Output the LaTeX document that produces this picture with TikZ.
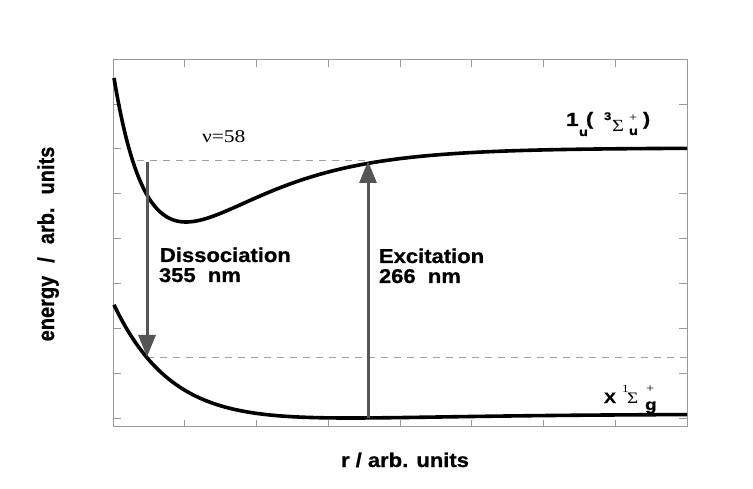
\documentclass[tikz,border=0pt]{standalone}
\usepackage{fontspec}
\usepackage{graphicx}
\usetikzlibrary{arrows.meta}
\newfontfamily\lsans{Liberation Sans}[BoldFeatures={FakeBold=0.8}]
\newfontfamily\lserif{Liberation Serif}
\newcommand\strx[1]{\scalebox{1.2}[1]{#1}}
\newcommand\strxb[1]{\scalebox{1.1}[1]{#1}}
\definecolor{framegray}{HTML}{999999}
\definecolor{arrowgray}{HTML}{555555}
\definecolor{dashgray}{HTML}{A0A0A0}
\tikzset{
  stsans/.style={anchor=base west, inner sep=0pt, outer sep=0pt, font=\lsans\bfseries\fontsize{#1}{#1}\selectfont},
  stserif/.style={anchor=base west, inner sep=0pt, outer sep=0pt, font=\lserif\fontsize{#1}{#1}\selectfont},
  framestyle/.style={draw=framegray, line width=0.9pt},
  tickstyle/.style={draw=framegray, line width=0.7pt},
  dashline/.style={draw=dashgray, line width=0.8pt, dash pattern=on 7pt off 6pt},
  curve/.style={draw=black, line width=3.6pt},
  transition/.style={draw=arrowgray, line width=3pt, -{Triangle[width=17pt,length=22pt]}},
}
\begin{document}
\begin{tikzpicture}[x=1pt,y=-1pt]
\useasboundingbox (0,0) rectangle (753,489);
\fill[white] (0,0) rectangle (753,489);
% frame and ticks
\draw[framestyle] (113,59) rectangle (687,426);
\foreach \k in {1,...,7} {
  \draw[tickstyle] ({113+71.75*\k},59) -- ++(0,8);
  \draw[tickstyle] ({113+71.75*\k},426) -- ++(0,-6);
}
\foreach \k in {1,...,8} {
  \draw[tickstyle] (113,{59+44.9*\k}) -- ++(8,0);
  \draw[tickstyle] (687,{59+44.9*\k}) -- ++(-8,0);
}
% dashed levels
\coordinate (vl) at (137,160);
\coordinate (vr) at (368,160);
\coordinate (gl) at (147,357);
\coordinate (gr) at (687,357);
\draw[dashline] (vl) -- (vr);
\draw[dashline] (gl) -- (gr);
% potential curves
\draw[curve] plot[domain=114:687, samples=250, smooth]
  (\x, {222-74*(1-exp(-0.01213*(\x-186)))*(1-exp(-0.01213*(\x-186)))});
\draw[curve] plot[domain=114:687, samples=250, smooth]
  (\x, {418-4*(1-exp(-0.00781*(\x-350)))*(1-exp(-0.00781*(\x-350)))});
% transitions
\coordinate (dtop) at (147,162);
\coordinate (dbot) at (147,357);
\coordinate (ebot) at (368,418);
\coordinate (etop) at (368,161);
\draw[transition] (dtop) -- (dbot);
\draw[transition] (ebot) -- (etop);
% labels
\node[stsans=20] (diss) at (160,262) {\strxb{Dissociation}};
\node[stsans=20] (dissnm) at (159,282) {\strxb{355\ \ nm}};
\node[stsans=20] (exc) at (379,263) {\strxb{Excitation}};
\node[stsans=20] (excnm) at (379,283) {\strxb{266\ \ nm}};
\node[stserif=18] (nu) at (202,143) {\strx{ν=58}};
% upper state label
\node[stsans=19] (one) at (566,126) {\strx{1}};
\node[stsans=12] (subu1) at (579,136) {\strx{u}};
\node[stsans=18] (lpar) at (586,125) {\strx{(}};
\node[stsans=11] (sup3) at (604,120) {\strx{3}};
\node[stserif=17] (sig1) at (612,132) {\strx{Σ}};
\node[stserif=12] (plus1) at (629,122) {\strx{+}};
\node[stsans=12] (subu2) at (629,135) {\strx{u}};
\node[stsans=18] (rpar) at (643,125) {\strx{)}};
% lower state label
\node[stsans=15] (xs) at (604,403) {\strx{X}};
\node[stserif=11] (sup1) at (622,392) {\strx{1}};
\node[stserif=16] (sig2) at (627,403) {\strx{Σ}};
\node[stserif=12] (plus2) at (646,392) {\strx{+}};
\node[stsans=16] (subg) at (645,410) {\strx{g}};
% axis labels
\node[anchor=base, inner sep=0pt, font=\lsans\bfseries\fontsize{20}{22}\selectfont] (xlab) at (405,467) {\strxb{r / arb. units}};
\node[rotate=90, anchor=base, inner sep=0pt, font=\lsans\bfseries\fontsize{20}{22}\selectfont] (ylab) at (54,244) {\scalebox{1}[1.15]{energy\hspace{13pt}/\hspace{13pt}arb.\hspace{13pt}units}};
\end{tikzpicture}
\end{document}
